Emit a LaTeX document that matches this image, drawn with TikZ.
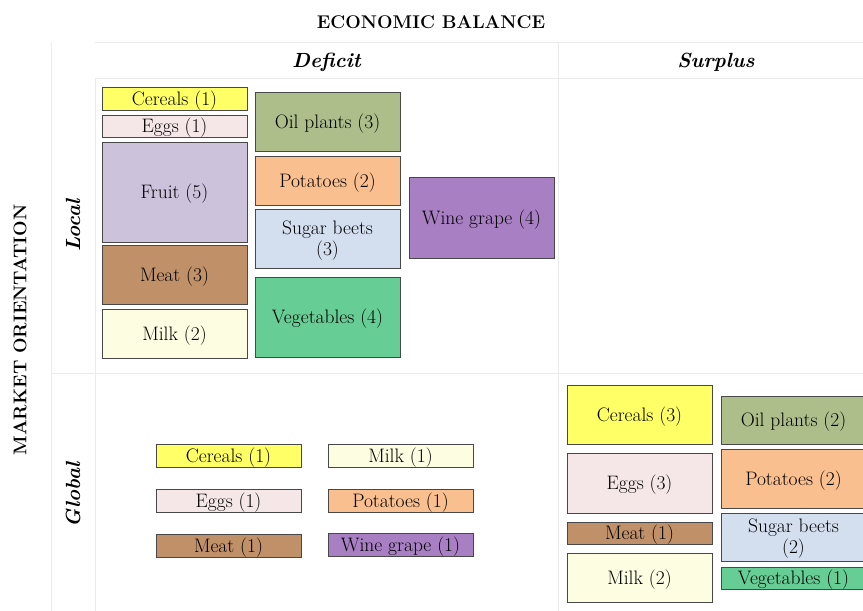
\documentclass[tikz,border=0pt]{standalone}
\usepackage{fontspec}
\definecolor{gridline}{HTML}{EBEBEB}
\definecolor{boxline}{HTML}{484848}
\definecolor{cereals}{HTML}{FFFF66}
\definecolor{eggs}{HTML}{F5E7E7}
\definecolor{fruit}{HTML}{CDC2DB}
\definecolor{meat}{HTML}{C09068}
\definecolor{milk}{HTML}{FDFDE1}
\definecolor{oil}{HTML}{ADBE8B}
\definecolor{potatoes}{HTML}{F9BF8E}
\definecolor{sugar}{HTML}{D3DEEE}
\definecolor{veg}{HTML}{66CD95}
\definecolor{wine}{HTML}{A87FC3}
\tikzset{
  grid/.style={draw=gridline, line width=1pt},
  item/.style={draw=boxline, line width=1pt, text=black, inner sep=0pt,
    align=center, minimum width=145, text depth=0.9pt,
    font=\fontsize{19.5}{21}\selectfont},
  axistitle/.style={font=\fontsize{18.4}{21}\selectfont\bfseries},
  cattitle/.style={font=\fontsize{20.5}{23}\selectfont\bfseries\itshape},
}
\begin{document}
\begin{tikzpicture}[x=1pt, y=-1pt]
\useasboundingbox (0,0) rectangle (863,611);

% table rules
\coordinate (v1t) at (51,42);  \coordinate (v1b) at (51,611);
\coordinate (v2t) at (95,78);  \coordinate (v2b) at (95,611);
\coordinate (v3t) at (558,42); \coordinate (v3b) at (558,611);
\coordinate (h1l) at (95,42);  \coordinate (h1r) at (863,42);
\coordinate (h2l) at (95,78);  \coordinate (h2r) at (863,78);
\coordinate (h3l) at (51,373); \coordinate (h3r) at (863,373);
\draw[grid] (v1t) -- (v1b);
\draw[grid] (v2t) -- (v2b);
\draw[grid] (v3t) -- (v3b);
\draw[grid] (h1l) -- (h1r);
\draw[grid] (h2l) -- (h2r);
\draw[grid] (h3l) -- (h3r);

% headings
\node[axistitle] (econ) at (431,22.5) {ECONOMIC BALANCE};
\node[axistitle, rotate=90] (market) at (20,330) {MARKET ORIENTATION};
\node[cattitle] (deficit) at (326.5,62) {Deficit};
\node[cattitle] (surplus) at (716,62) {Surplus};
\node[cattitle, rotate=90] (local) at (73,225.5) {Local};
\node[cattitle, rotate=90] (global) at (73,495) {Global};

% local / deficit
\node[item, fill=cereals, minimum height=23] (lcer) at (174.5,98.5) {Cereals (1)};
\node[item, fill=eggs, minimum height=22] (legg) at (174.5,126) {Eggs (1)};
\node[item, fill=fruit, minimum height=100] (lfru) at (174.5,192) {Fruit (5)};
\node[item, fill=meat, minimum height=59] (lmea) at (174.5,274.5) {Meat (3)};
\node[item, fill=milk, minimum height=49] (lmil) at (174.5,333.5) {Milk (2)};
\node[item, fill=oil, minimum height=59] (loil) at (327.5,121.5) {Oil plants (3)};
\node[item, fill=potatoes, minimum height=49] (lpot) at (327.5,180.5) {Potatoes (2)};
\node[item, fill=sugar, minimum height=59] (lsug) at (327.5,238.5) {Sugar beets\\(3)};
\node[item, fill=veg, minimum height=80] (lveg) at (327.5,317) {Vegetables (4)};
\node[item, fill=wine, minimum height=81] (lwin) at (481.5,217.5) {Wine grape (4)};

% global / deficit
\node[item, fill=cereals, minimum height=23] (gcer) at (228.5,455.5) {Cereals (1)};
\node[item, fill=eggs, minimum height=23] (gegg) at (228.5,500.5) {Eggs (1)};
\node[item, fill=meat, minimum height=23] (gmea) at (228.5,546) {Meat (1)};
\node[item, fill=milk, minimum height=23] (gmil) at (400.5,455.5) {Milk (1)};
\node[item, fill=potatoes, minimum height=23] (gpot) at (400.5,500.5) {Potatoes (1)};
\node[item, fill=wine, minimum height=23] (gwin) at (400.5,545) {Wine grape (1)};

% global / surplus
\node[item, fill=cereals, minimum height=59] (scer) at (639.5,414.5) {Cereals (3)};
\node[item, fill=eggs, minimum height=60] (segg) at (639.5,483) {Eggs (3)};
\node[item, fill=meat, minimum height=22] (smea) at (639.5,533) {Meat (1)};
\node[item, fill=milk, minimum height=49] (smil) at (639.5,577.5) {Milk (2)};
\node[item, fill=oil, minimum height=48] (soil) at (793.5,420) {Oil plants (2)};
\node[item, fill=potatoes, minimum height=59] (spot) at (793.5,478.5) {Potatoes (2)};
\node[item, fill=sugar, minimum height=48] (ssug) at (793.5,537) {Sugar beets\\(2)};
\node[item, fill=veg, minimum height=22] (sveg) at (793.5,578) {Vegetables (1)};
\end{tikzpicture}
\end{document}
